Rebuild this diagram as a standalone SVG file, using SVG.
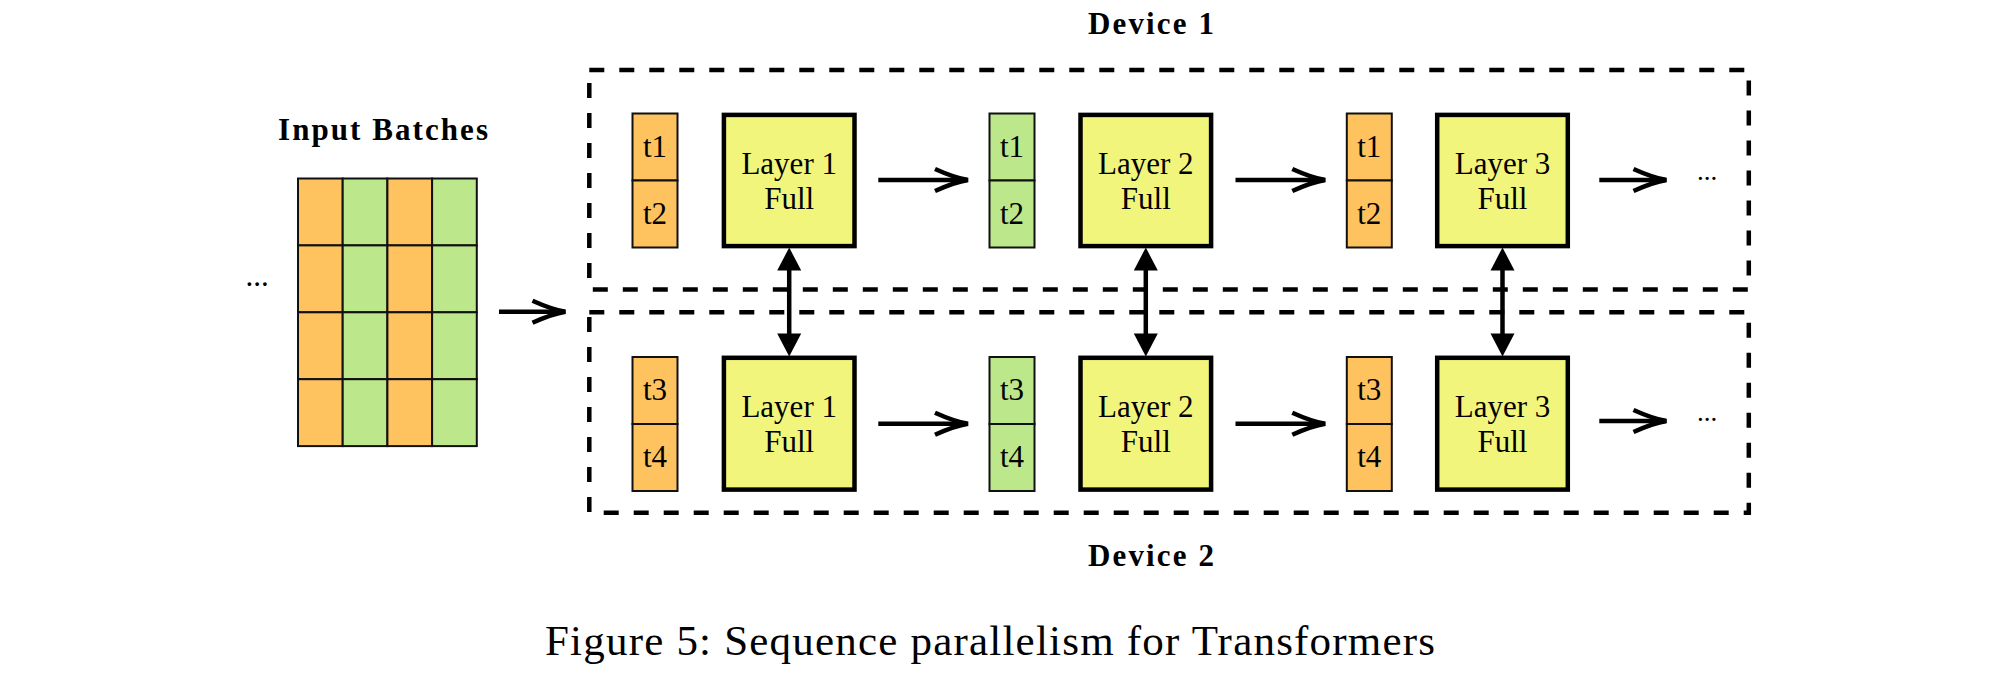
<svg xmlns="http://www.w3.org/2000/svg" width="2011" height="690" viewBox="0 0 2011 690">
<style>
.or{fill:#FEC25E;stroke:#111;stroke-width:2}
.gr{fill:#BCE78A;stroke:#111;stroke-width:2}
.ly{fill:#F2F57B;stroke:#000;stroke-width:4.5}
.dev{fill:none;stroke:#000;stroke-width:4.5;stroke-dasharray:15 15}
.t{font-family:"Liberation Serif","DejaVu Serif",serif;font-size:31px;fill:#000;text-anchor:middle}
.b{font-family:"Liberation Serif","DejaVu Serif",serif;font-size:31px;font-weight:bold;fill:#000;text-anchor:middle}
.arr{fill:none;stroke:#000;stroke-width:4.5}
.dbl{fill:none;stroke:#000;stroke-width:4.5}
</style>
<defs>
<marker id="to" markerUnits="userSpaceOnUse" markerWidth="44" markerHeight="32" viewBox="-38 -16 44 32" refX="0" refY="0" orient="auto" overflow="visible">
<path d="M-32,-11 Q-12,-2 1,0 Q-12,2 -32,11" fill="none" stroke="#000" stroke-width="4.5" stroke-linecap="butt"/>
</marker>
<marker id="tri" markerUnits="userSpaceOnUse" markerWidth="30" markerHeight="28" viewBox="-26 -14 30 28" refX="-10" refY="0" orient="auto-start-reverse" overflow="visible">
<path d="M1,0 L-22,-12 L-22,12 Z" fill="#000"/>
</marker>
</defs>

<g id="title-input"><text class="b" x="383" y="140" textLength="210" lengthAdjust="spacing">Input Batches</text></g>
<g id="input-dots"><text class="t" x="257" y="286">...</text></g>

<g id="input-grid">
<rect class="or" x="298" y="178.5" width="44.7" height="66.9"/>
<rect class="gr" x="342.7" y="178.5" width="44.7" height="66.9"/>
<rect class="or" x="387.4" y="178.5" width="44.7" height="66.9"/>
<rect class="gr" x="432.1" y="178.5" width="44.7" height="66.9"/>
<rect class="or" x="298" y="245.4" width="44.7" height="66.9"/>
<rect class="gr" x="342.7" y="245.4" width="44.7" height="66.9"/>
<rect class="or" x="387.4" y="245.4" width="44.7" height="66.9"/>
<rect class="gr" x="432.1" y="245.4" width="44.7" height="66.9"/>
<rect class="or" x="298" y="312.3" width="44.7" height="66.9"/>
<rect class="gr" x="342.7" y="312.3" width="44.7" height="66.9"/>
<rect class="or" x="387.4" y="312.3" width="44.7" height="66.9"/>
<rect class="gr" x="432.1" y="312.3" width="44.7" height="66.9"/>
<rect class="or" x="298" y="379.2" width="44.7" height="66.9"/>
<rect class="gr" x="342.7" y="379.2" width="44.7" height="66.9"/>
<rect class="or" x="387.4" y="379.2" width="44.7" height="66.9"/>
<rect class="gr" x="432.1" y="379.2" width="44.7" height="66.9"/>
</g>

<g id="device1">
<rect class="dev" x="589.3" y="70" width="1159.5" height="219.5"/>
<text class="b" x="1151" y="33.5" textLength="126" lengthAdjust="spacing">Device 1</text>
</g>
<g id="device2">
<rect class="dev" x="589.3" y="312.3" width="1159.5" height="200.4"/>
<text class="b" x="1151" y="566" textLength="126" lengthAdjust="spacing">Device 2</text>
</g>

<g id="d1-tok1">
<rect class="or" x="632.5" y="113.5" width="45" height="67"/>
<rect class="or" x="632.5" y="180.5" width="45" height="67"/>
<text class="t" x="655" y="157">t1</text><text class="t" x="655" y="223.6">t2</text>
</g>
<g id="d1-layer1">
<rect class="ly" x="723.9" y="114.9" width="130.6" height="131.2"/>
<text class="t" x="789.2" y="173.5">Layer 1</text><text class="t" x="789.2" y="208.5">Full</text>
</g>
<g id="d1-tok2">
<rect class="gr" x="989.5" y="113.5" width="45" height="67"/>
<rect class="gr" x="989.5" y="180.5" width="45" height="67"/>
<text class="t" x="1012" y="157">t1</text><text class="t" x="1012" y="223.6">t2</text>
</g>
<g id="d1-layer2">
<rect class="ly" x="1080.5" y="114.9" width="130.6" height="131.2"/>
<text class="t" x="1145.8" y="173.5">Layer 2</text><text class="t" x="1145.8" y="208.5">Full</text>
</g>
<g id="d1-tok3">
<rect class="or" x="1346.8" y="113.5" width="45" height="67"/>
<rect class="or" x="1346.8" y="180.5" width="45" height="67"/>
<text class="t" x="1369.3" y="157">t1</text><text class="t" x="1369.3" y="223.6">t2</text>
</g>
<g id="d1-layer3">
<rect class="ly" x="1437.2" y="114.9" width="130.6" height="131.2"/>
<text class="t" x="1502.5" y="173.5">Layer 3</text><text class="t" x="1502.5" y="208.5">Full</text>
</g>
<g id="d1-dots"><text class="t" x="1707" y="179.5" style="font-size:27px">...</text></g>

<g id="d2-tok1">
<rect class="or" x="632.5" y="357" width="45" height="67"/>
<rect class="or" x="632.5" y="424" width="45" height="67"/>
<text class="t" x="655" y="400.3">t3</text><text class="t" x="655" y="467">t4</text>
</g>
<g id="d2-layer1">
<rect class="ly" x="723.9" y="357.8" width="130.6" height="131.8"/>
<text class="t" x="789.2" y="417">Layer 1</text><text class="t" x="789.2" y="452">Full</text>
</g>
<g id="d2-tok2">
<rect class="gr" x="989.5" y="357" width="45" height="67"/>
<rect class="gr" x="989.5" y="424" width="45" height="67"/>
<text class="t" x="1012" y="400.3">t3</text><text class="t" x="1012" y="467">t4</text>
</g>
<g id="d2-layer2">
<rect class="ly" x="1080.5" y="357.8" width="130.6" height="131.8"/>
<text class="t" x="1145.8" y="417">Layer 2</text><text class="t" x="1145.8" y="452">Full</text>
</g>
<g id="d2-tok3">
<rect class="or" x="1346.8" y="357" width="45" height="67"/>
<rect class="or" x="1346.8" y="424" width="45" height="67"/>
<text class="t" x="1369.3" y="400.3">t3</text><text class="t" x="1369.3" y="467">t4</text>
</g>
<g id="d2-layer3">
<rect class="ly" x="1437.2" y="357.8" width="130.6" height="131.8"/>
<text class="t" x="1502.5" y="417">Layer 3</text><text class="t" x="1502.5" y="452">Full</text>
</g>
<g id="d2-dots"><text class="t" x="1707" y="421" style="font-size:27px">...</text></g>

<g id="connectors">
<line class="arr" x1="499" y1="311.7" x2="564.5" y2="311.7" marker-end="url(#to)"/>
<line class="arr" x1="878.3" y1="180" x2="967" y2="180" marker-end="url(#to)"/>
<line class="arr" x1="1235.5" y1="180" x2="1324.3" y2="180" marker-end="url(#to)"/>
<line class="arr" x1="1599.3" y1="180" x2="1665.5" y2="180" marker-end="url(#to)"/>
<line class="arr" x1="878.3" y1="423.7" x2="967" y2="423.7" marker-end="url(#to)"/>
<line class="arr" x1="1235.5" y1="423.7" x2="1324.3" y2="423.7" marker-end="url(#to)"/>
<line class="arr" x1="1599.3" y1="421" x2="1665.5" y2="421" marker-end="url(#to)"/>
<line class="dbl" x1="789.2" y1="258.5" x2="789.2" y2="345.5" marker-start="url(#tri)" marker-end="url(#tri)"/>
<line class="dbl" x1="1145.8" y1="258.5" x2="1145.8" y2="345.5" marker-start="url(#tri)" marker-end="url(#tri)"/>
<line class="dbl" x1="1502.5" y1="258.5" x2="1502.5" y2="345.5" marker-start="url(#tri)" marker-end="url(#tri)"/>
</g>

<g id="caption"><text x="990" y="655" style="font-family:'Liberation Serif','DejaVu Serif',serif;font-size:43px;fill:#000;text-anchor:middle" textLength="890" lengthAdjust="spacing">Figure 5: Sequence parallelism for Transformers</text></g>
</svg>
